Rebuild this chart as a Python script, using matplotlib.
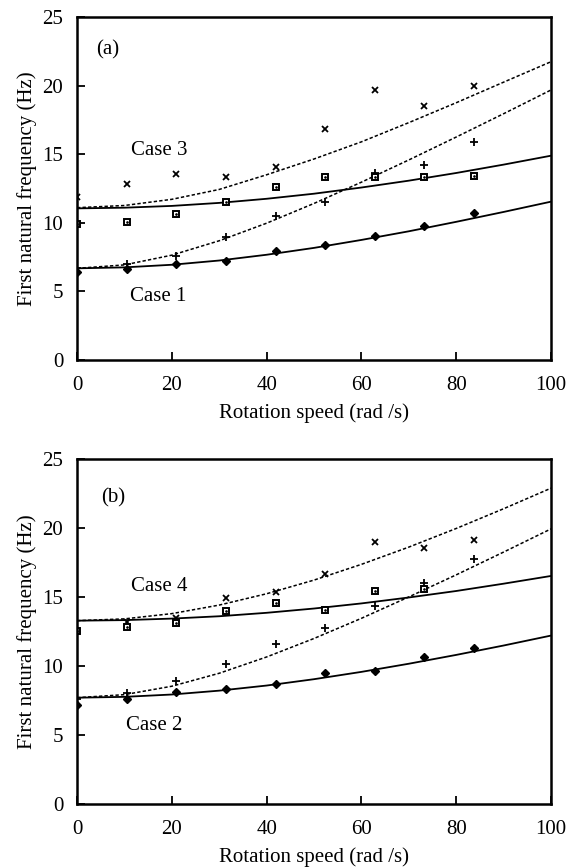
import matplotlib
matplotlib.use('Agg')
import matplotlib.pyplot as plt
from matplotlib import rcParams

rcParams['font.family'] = ['Liberation Serif', 'DejaVu Serif']
rcParams['font.size'] = 15

# rotation speeds of the measured points (rad/s)
speed = [0, 10.47, 20.94, 31.42, 41.89, 52.36, 62.83, 73.30, 83.78]
curve_speed = [0, 10, 20, 30, 40, 50, 60, 70, 80, 90, 100]

# panel (a)
a_case3_cross = [11.9, 12.83, 13.56, 13.36, 14.09, 16.8, 19.7, 18.5, 20.0]
a_case3_square = [9.89, 10.08, 10.66, 11.52, 12.63, 13.31, 13.31, 13.36, 13.43]
a_case1_plus = [6.73, 7.0, 7.58, 8.94, 10.5, 11.54, 13.6, 14.24, 15.9]
a_case1_diamond = [6.39, 6.61, 7.0, 7.24, 7.94, 8.41, 9.06, 9.74, 10.69]
a_solid_low = [6.68, 6.75, 6.94, 7.25, 7.67, 8.17, 8.75, 9.38, 10.07, 10.79, 11.54]
a_solid_up = [11.05, 11.10, 11.23, 11.45, 11.75, 12.12, 12.57, 13.07, 13.63, 14.24, 14.89]
a_dash_up = [11.1, 11.26, 11.71, 12.43, 13.5, 14.65, 15.9, 17.3, 18.75, 20.25, 21.74]
a_dash_low = [6.68, 6.93, 7.64, 8.69, 9.97, 11.41, 12.96, 14.58, 16.25, 17.95, 19.68]

# panel (b)
b_speed_cross = [10.47, 20.94, 31.42, 41.89, 52.36, 62.83, 73.30, 83.78]
b_case4_cross = [13.17, 13.45, 14.95, 15.34, 16.67, 18.96, 18.53, 19.13]
b_speed_square = [0, 10.47, 20.94, 31.42, 41.89, 52.36, 62.83, 73.30]
b_case4_square = [12.56, 12.8, 13.14, 14.01, 14.54, 14.06, 15.43, 15.56]
b_case2_plus = [7.6, 8.02, 8.91, 10.12, 11.57, 12.73, 14.37, 15.99, 17.78]
b_case2_diamond = [7.15, 7.63, 8.12, 8.31, 8.67, 9.47, 9.66, 10.68, 11.33]
b_solid_low = [7.7, 7.76, 7.93, 8.21, 8.58, 9.04, 9.57, 10.16, 10.80, 11.48, 12.2]
b_solid_up = [13.28, 13.32, 13.43, 13.6, 13.85, 14.16, 14.53, 14.96, 15.43, 15.96, 16.52]
b_dash_up = [13.28, 13.41, 13.79, 14.41, 15.23, 16.22, 17.36, 18.61, 19.96, 21.39, 22.88]
b_dash_low = [7.7, 7.92, 8.53, 9.47, 10.65, 11.99, 13.45, 15.0, 16.6, 18.25, 19.93]

panels = [
    dict(rect=[0.1356, 0.5848, 0.8345, 0.3956], tag='(a)', tag_xy=(4.0, 22.6),
         up_name='Case 3', up_xy=(11.4, 15.3), low_name='Case 1', low_xy=(11.2, 4.6),
         cross=(speed, a_case3_cross), square=(speed, a_case3_square),
         plus=(speed, a_case1_plus), diamond=(speed, a_case1_diamond),
         solid=[a_solid_low, a_solid_up], dashed=[a_dash_up, a_dash_low]),
    dict(rect=[0.1356, 0.0727, 0.8345, 0.398], tag='(b)', tag_xy=(5.0, 22.15),
         up_name='Case 4', up_xy=(11.4, 15.75), low_name='Case 2', low_xy=(10.3, 5.7),
         cross=(b_speed_cross, b_case4_cross), square=(b_speed_square, b_case4_square),
         plus=(speed, b_case2_plus), diamond=(speed, b_case2_diamond),
         solid=[b_solid_low, b_solid_up], dashed=[b_dash_up, b_dash_low]),
]

fig = plt.figure(figsize=(5.68, 8.67), dpi=100)

for p in panels:
    ax = fig.add_axes(p['rect'])
    for c in p['solid']:
        ax.plot(curve_speed, c, '-', color='black', linewidth=1.3)
    for c in p['dashed']:
        ax.plot(curve_speed, c, color='black', linewidth=1.1, linestyle=(0, (2.2, 1.4)))

    ax.plot(*p['cross'], 'x', color='black', markersize=5, markeredgewidth=1.3)
    ax.plot(*p['plus'], '+', color='black', markersize=5.5, markeredgewidth=1.3)
    ax.plot(*p['square'], 's', color='black', markerfacecolor='white',
            markersize=5, markeredgewidth=1.4)
    ax.plot(*p['square'], '.', color='black', markersize=1.8)
    ax.plot(*p['diamond'], 'D', color='black', markersize=4)

    ax.text(*p['tag_xy'], p['tag'], fontsize=15, va='center', ha='left')
    ax.text(*p['up_xy'], p['up_name'], fontsize=15, va='center', ha='left')
    ax.text(*p['low_xy'], p['low_name'], fontsize=15, va='center', ha='left')

    ax.set_xlim(0, 100)
    ax.set_ylim(0, 25)
    ax.set_xticks([0, 20, 40, 60, 80, 100])
    ax.set_yticks([0, 5, 10, 15, 20, 25])
    ax.tick_params(direction='in', length=6, width=1.3, top=False, right=False,
                   labelsize=15)
    ax.tick_params(axis='x', pad=11.5)
    ax.tick_params(axis='y', pad=10)
    for s in ax.spines.values():
        s.set_linewidth(1.8)
    ax.set_xlabel('Rotation speed (rad /s)', fontsize=15, labelpad=6)
    ax.set_ylabel('First natural frequency (Hz)', fontsize=15, labelpad=4)

fig.savefig('out.png', dpi=100)
